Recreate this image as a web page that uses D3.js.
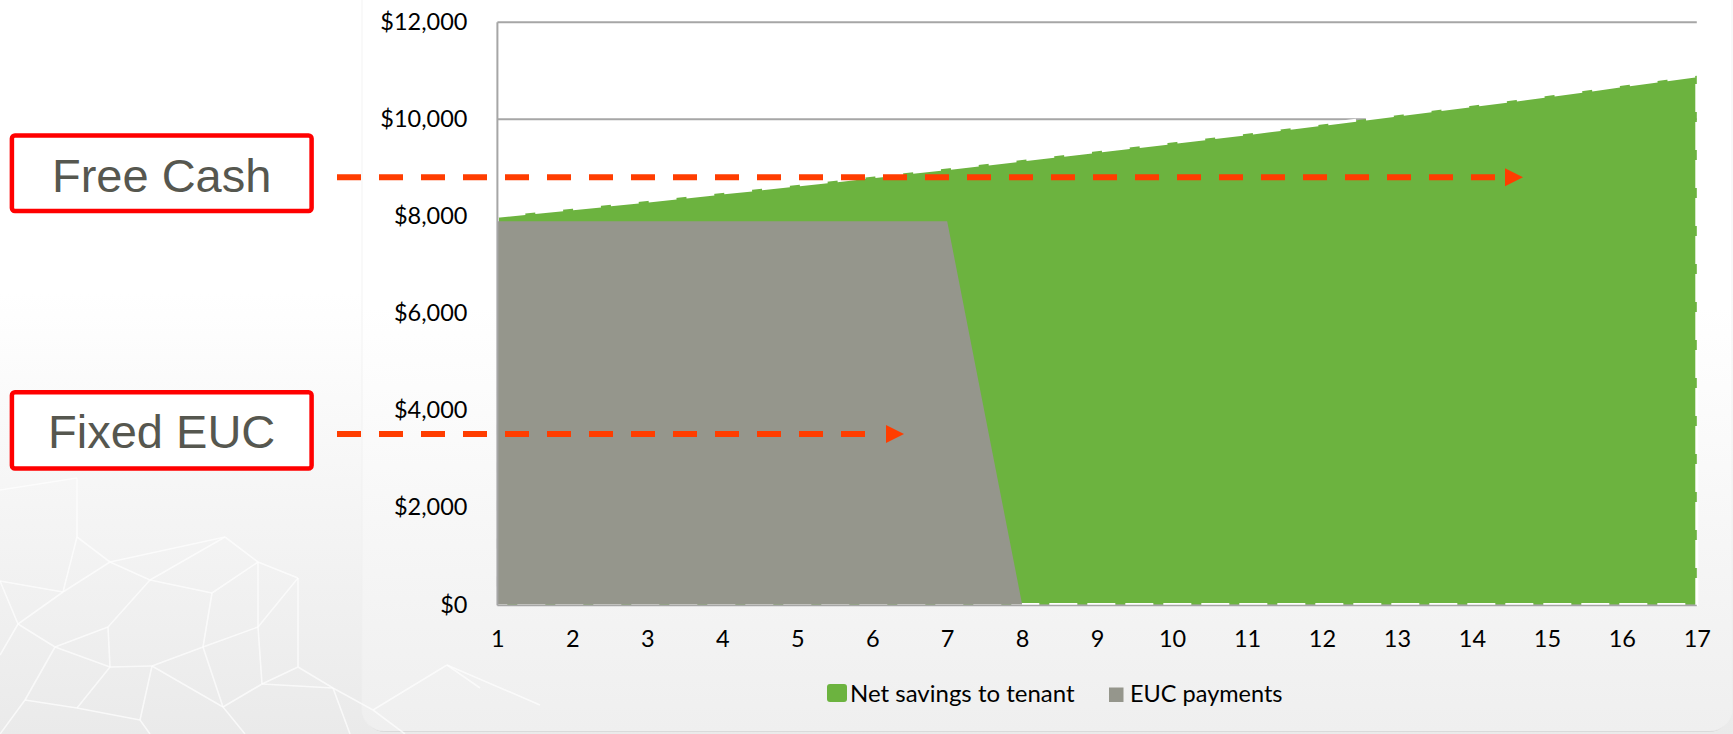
<!DOCTYPE html>
<html>
<head>
<meta charset="utf-8">
<script src="https://cdn.jsdelivr.net/npm/d3@7"></script>
<style>
  html, body { margin: 0; padding: 0; background: #ffffff; }
  svg { display: block; }
</style>
</head>
<body>
<svg id="chart" width="1733" height="734"></svg>
<script>
// Years of the agreement
const years = [1, 2, 3, 4, 5, 6, 7, 8, 9, 10, 11, 12, 13, 14, 15, 16, 17];
// Total energy savings passed to the tenant each year ($)
const netSavings = [8000, 8155, 8315, 8480, 8645, 8815, 8985, 9160, 9340, 9520,
                    9705, 9895, 10085, 10280, 10480, 10690, 10900];
// Fixed EUC payments ($), paid over the first seven years
const eucPayments = [7900, 7900, 7900, 7900, 7900, 7900, 7900, 0, 0, 0,
                     0, 0, 0, 0, 0, 0, 0];
// Value axis ticks
const yTicks = [0, 2000, 4000, 6000, 8000, 10000, 12000];
// Series names for the legend
const seriesNames = ["Net savings to tenant", "EUC payments"];
// Callout labels
const callouts = ["Free Cash", "Fixed EUC"];

const W = 1733, H = 734;
const svg = d3.select("#chart");
const defs = svg.append("defs");

const GREEN = "#6cb33f";
const GREY = "#95968c";
const ARROW = "#ff3d00";
const AXIS_FONT = "Lato, 'DejaVu Sans', sans-serif";

// ---- slide background ----
const bg = defs.append("linearGradient").attr("id", "bgGrad")
  .attr("x1", 0).attr("y1", 0).attr("x2", 0).attr("y2", 1);
bg.append("stop").attr("offset", "0.4").attr("stop-color", "#ffffff");
bg.append("stop").attr("offset", "1").attr("stop-color", "#eaeaea");
svg.append("rect").attr("width", W).attr("height", H).attr("fill", "url(#bgGrad)");

// faint geometric mesh in the lower-left corner
const meshPts = {
  a: [0, 581], b: [63, 592], c: [110, 562], d: [150, 580], e: [212, 593],
  f: [225, 537], g: [258, 562], h: [298, 578], i: [77, 537], j: [18, 624],
  k: [55, 647], l: [108, 627], m: [152, 666], n: [203, 647], o: [258, 627],
  p: [298, 667], q: [110, 667], r: [77, 708], s: [25, 700], t: [140, 720],
  u: [223, 707], v: [262, 684], w: [333, 688], x: [447, 665], y: [480, 688],
  z: [373, 710], i0: [77, 478], a0: [0, 490], j0: [0, 655], s0: [0, 734],
  t0: [150, 734], u0: [245, 734], z0: [405, 734], y0: [540, 705], w0: [350, 734]
};
const meshEdges = [
  ["i0", "i"], ["a0", "i0"], ["i", "c"], ["i", "b"], ["a", "b"], ["b", "c"], ["c", "d"],
  ["d", "f"], ["f", "g"], ["g", "h"], ["c", "f"], ["b", "j"], ["j", "k"], ["k", "l"],
  ["l", "d"], ["d", "e"], ["e", "n"], ["n", "o"], ["o", "h"], ["g", "o"], ["e", "g"],
  ["h", "p"], ["p", "v"], ["o", "v"], ["l", "q"], ["q", "m"], ["m", "n"], ["k", "q"],
  ["k", "s"], ["s", "r"], ["r", "q"], ["r", "t"], ["t", "m"], ["m", "u"], ["u", "n"],
  ["u", "v"], ["v", "w"], ["w", "z"], ["z", "x"], ["x", "y"], ["t", "t0"], ["u", "u0"],
  ["j", "j0"], ["s", "s0"], ["p", "w"], ["x", "y0"], ["z", "z0"], ["w", "w0"], ["j", "a"]
];

// ---- chart panel ----
const pg = defs.append("linearGradient").attr("id", "panelGrad")
  .attr("x1", 0).attr("y1", 0).attr("x2", 0).attr("y2", 1);
pg.append("stop").attr("offset", "0.45").attr("stop-color", "#ffffff");
pg.append("stop").attr("offset", "1").attr("stop-color", "#efefef");
svg.append("rect").attr("x", 363).attr("y", -40).attr("width", 1368).attr("height", 772)
  .attr("rx", 22).attr("fill", "#cccccc");
svg.append("rect").attr("x", 362).attr("y", -40).attr("width", 1370).attr("height", 771)
  .attr("rx", 22).attr("fill", "url(#panelGrad)").attr("stroke", "#f0f0f0").attr("stroke-width", 0.8);

svg.append("g").selectAll("line").data(meshEdges).join("line")
  .attr("x1", d => meshPts[d[0]][0]).attr("y1", d => meshPts[d[0]][1])
  .attr("x2", d => meshPts[d[1]][0]).attr("y2", d => meshPts[d[1]][1])
  .attr("stroke", "#ffffff").attr("stroke-width", 1.6).attr("opacity", 0.7);

// ---- scales ----
const x = d3.scaleLinear().domain([1, 17]).range([497.4, 1696.8]);
const y = d3.scaleLinear().domain([0, 12000]).range([604.5, 22.3]);

const plot = svg.append("g");

// horizontal gridlines
plot.append("g").selectAll("line").data(yTicks).join("line")
  .attr("x1", x(1)).attr("x2", x(17))
  .attr("y1", d => y(d)).attr("y2", d => y(d))
  .attr("stroke", "#a6a6a6").attr("stroke-width", 2);

// net savings area (drawn first, behind)
const seriesArea = d3.area()
  .x((d, i) => x(years[i]))
  .y0(y(0))
  .y1(d => y(d));
plot.append("path").datum(netSavings)
  .attr("d", seriesArea)
  .attr("fill", GREEN)
  .attr("stroke", "#ffffff").attr("stroke-width", 3)
  .attr("stroke-dasharray", "28,10");

// EUC payments area (drawn on top)
plot.append("path").datum(eucPayments)
  .attr("d", seriesArea)
  .attr("fill", GREY);

// axis lines
plot.append("line").attr("x1", x(1)).attr("x2", x(1)).attr("y1", y(12000)).attr("y2", y(0) + 1)
  .attr("stroke", "#a6a6a6").attr("stroke-width", 2);
plot.append("line").attr("x1", x(1)).attr("x2", x(17)).attr("y1", y(0) + 1).attr("y2", y(0) + 1)
  .attr("stroke", "#a6a6a6").attr("stroke-width", 1.5);

// value axis labels
const yAxis = svg.append("g").attr("transform", `translate(${x(1)},0)`)
  .call(d3.axisLeft(y).tickValues(yTicks).tickSize(0).tickPadding(30)
    .tickFormat(d3.format("$,.0f")));
yAxis.select(".domain").remove();
yAxis.selectAll("text").attr("font-family", AXIS_FONT).attr("font-size", 23.5).attr("fill", "#000");

// category axis labels
const xAxis = svg.append("g").attr("transform", `translate(0,${y(0)})`)
  .call(d3.axisBottom(x).tickValues(years).tickSize(0).tickPadding(25.5)
    .tickFormat(d3.format("d")));
xAxis.select(".domain").remove();
xAxis.selectAll("text").attr("font-family", AXIS_FONT).attr("font-size", 23.5).attr("fill", "#000");

// ---- legend ----
const legend = svg.append("g");
legend.append("rect").attr("x", 827).attr("y", 684).attr("width", 20).attr("height", 18)
  .attr("rx", 3).attr("fill", GREEN);
legend.append("text").attr("x", 850).attr("y", 701.5).text(seriesNames[0])
  .attr("font-family", AXIS_FONT).attr("font-size", 24).attr("fill", "#000");
legend.append("rect").attr("x", 1109).attr("y", 687.5).attr("width", 14.5).attr("height", 14.5)
  .attr("fill", GREY);
legend.append("text").attr("x", 1130).attr("y", 701.5).text(seriesNames[1])
  .attr("font-family", AXIS_FONT).attr("font-size", 23.5).attr("fill", "#000");

// ---- callout boxes and arrows ----
const boxes = [
  { label: callouts[0], top: 135.5, h: 75.5, base: 191.7, arrowY: 177.3, lineEnd: 1497, tip: 1523 },
  { label: callouts[1], top: 392.3, h: 76.2, base: 448.3, arrowY: 434, lineEnd: 880, tip: 904 }
];
const cg = svg.append("g");
boxes.forEach(b => {
  cg.append("rect").attr("x", 11.9).attr("y", b.top).attr("width", 299.7).attr("height", b.h)
    .attr("rx", 3).attr("fill", "#ffffff").attr("stroke", "#ff0000").attr("stroke-width", 4.5);
  cg.append("text").attr("x", 161.7).attr("y", b.base).attr("text-anchor", "middle")
    .attr("font-family", "'Liberation Sans', Arial, sans-serif").attr("font-size", 47)
    .attr("fill", "#56574f").text(b.label);
  cg.append("line").attr("x1", 337).attr("x2", b.lineEnd).attr("y1", b.arrowY).attr("y2", b.arrowY)
    .attr("stroke", ARROW).attr("stroke-width", 6).attr("stroke-dasharray", "24,18");
  cg.append("path")
    .attr("d", `M${b.tip - 18},${b.arrowY - 9}L${b.tip},${b.arrowY}L${b.tip - 18},${b.arrowY + 9}Z`)
    .attr("fill", ARROW);
});
</script>
</body>
</html>
